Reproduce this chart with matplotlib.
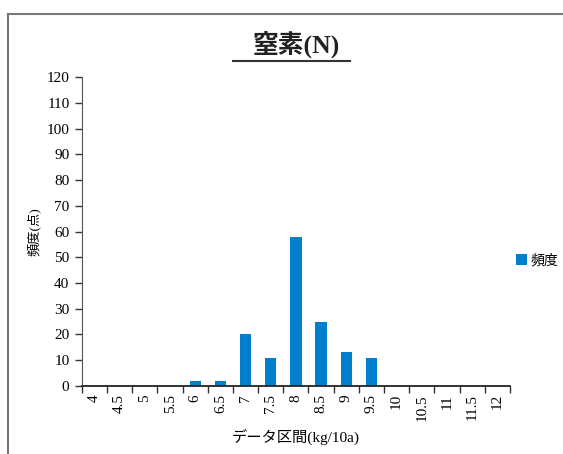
import matplotlib.pyplot as plt
from matplotlib.lines import Line2D
import numpy as np

plt.rcParams['font.family'] = ['Liberation Serif', 'Noto Sans CJK JP']

# データ区間 (kg/10a) と頻度
kukan = ['4', '4.5', '5', '5.5', '6', '6.5', '7', '7.5', '8',
         '8.5', '9', '9.5', '10', '10.5', '11', '11.5', '12']
hindo = [0, 0, 0, 0, 2, 2, 20, 11, 58, 25, 13, 11, 0, 0, 0, 0, 0]

fig = plt.figure(figsize=(5.63, 4.54), dpi=100)
ax = fig.add_axes([0.1456, 0.150, 0.760, 0.680])

x = np.arange(len(kukan))
ax.bar(x, hindo, width=0.45, color='#0080cc', label='頻度')

ax.set_xlim(-0.5, len(kukan) - 0.5)
ax.set_ylim(0, 120)
ax.set_yticks(range(0, 121, 10))
ax.set_xticks(x)
ax.set_xticklabels(kukan, rotation=90, fontsize=11)
ax.set_xticks(np.arange(-0.5, len(kukan)), minor=True)
ax.tick_params(axis='x', which='major', length=0, pad=6)
ax.tick_params(axis='x', which='minor', length=5, width=1, color='#333333', direction='out')
ax.tick_params(axis='y', length=5, width=1, color='#333333', labelsize=11, pad=4)

for s in ['top', 'right']:
    ax.spines[s].set_visible(False)
ax.spines['left'].set_color('#555555')
ax.spines['bottom'].set_color('#222222')
ax.spines['bottom'].set_linewidth(1.3)

ax.set_ylabel('頻度(点)', fontsize=9.5)
ax.yaxis.set_label_coords(-0.096, 0.5)
ax.set_xlabel('データ区間(kg/10a)', fontsize=11, labelpad=6)

fig.text(0.526, 0.902, '窒素(N)', ha='center', va='center', fontsize=18.5,
         color='#222222', fontweight='bold')
fig.add_artist(Line2D([0.414, 0.622], [0.866, 0.866], color='#333333', lw=1.5))

# 外枠（上と左だけ）
fig.add_artist(Line2D([0.015, 1.0], [0.970, 0.970], color='#777777', lw=1.5))
fig.add_artist(Line2D([0.015, 0.015], [0.0, 0.970], color='#777777', lw=1.5))

fig.legend(loc='center left', bbox_to_anchor=(0.895, 0.426), frameon=False,
           fontsize=10, handlelength=0.8, handleheight=0.8, handletextpad=0.2)

fig.savefig('out.png', dpi=100)
